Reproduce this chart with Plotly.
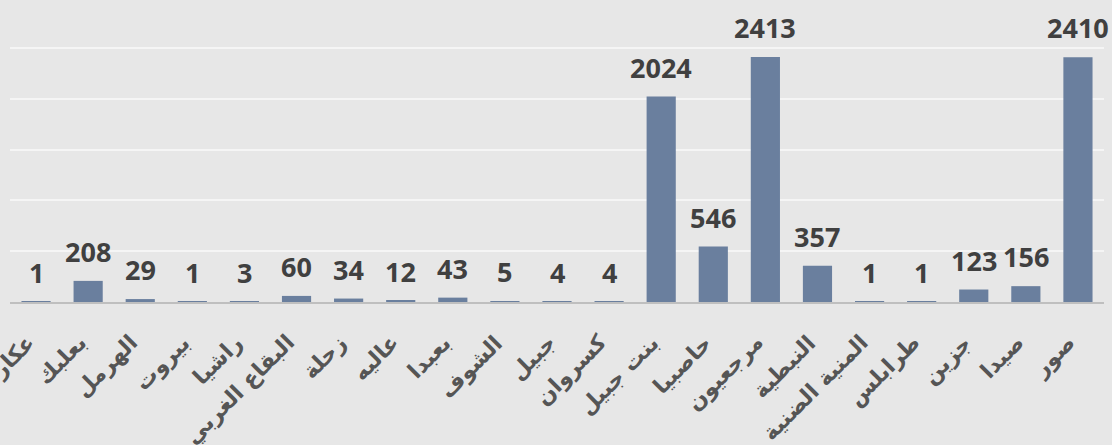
import plotly.graph_objects as go

categories = ["عكار", "بعلبك", "الهرمل", "بيروت", "راشيا", "البقاع الغربي", "زحلة", "عاليه",
              "بعبدا", "الشوف", "جبيل", "كسروان", "بنت جبيل", "حاصبيا", "مرجعيون", "النبطية",
              "المنية الضنية", "طرابلس", "جزين", "صيدا", "صور"]
values = [1, 208, 29, 1, 3, 60, 34, 12, 43, 5, 4, 4, 2024, 546, 2413, 357, 1, 1, 123, 156, 2410]

xs = list(range(len(categories)))

fig = go.Figure(go.Bar(
    x=xs,
    y=values,
    marker=dict(color="#6a7f9e", line=dict(width=0)),
    cliponaxis=False,
))

# value labels above bars
for xi, v in zip(xs, values):
    fig.add_annotation(
        x=xi, y=v, xref="x", yref="y",
        text=str(v), showarrow=False,
        xanchor="center", yanchor="bottom", yshift=9,
        font=dict(family="Open Sans", size=27, color="#404040", weight="bold"),
    )

# rotated category labels
for xi, lab in zip(xs, categories):
    fig.add_annotation(
        x=xi, y=0, xref="x", yref="y",
        text=lab, showarrow=False, textangle=-45,
        xanchor="right", yanchor="top",
        xshift=6, yshift=-25,
        font=dict(family="DejaVu Sans", size=22, color="#555555", weight="bold"),
    )

fig.update_layout(
    width=1112, height=445,
    margin=dict(l=10, r=8, t=0, b=143),
    paper_bgcolor="#e7e7e7",
    plot_bgcolor="rgba(0,0,0,0)",
    bargap=0.44,
    showlegend=False,
    xaxis=dict(
        showticklabels=False,
        showline=True, linecolor="#bfbfbf", linewidth=2,
        showgrid=False, ticks="", automargin=False,
        range=[-0.5, len(categories) - 0.5],
    ),
    yaxis=dict(
        range=[0, 2975],
        dtick=500,
        showgrid=True, gridcolor="#f5f5f5", gridwidth=1.5,
        showticklabels=False, zeroline=False, automargin=False,
    ),
)

fig.write_html("out.html")
